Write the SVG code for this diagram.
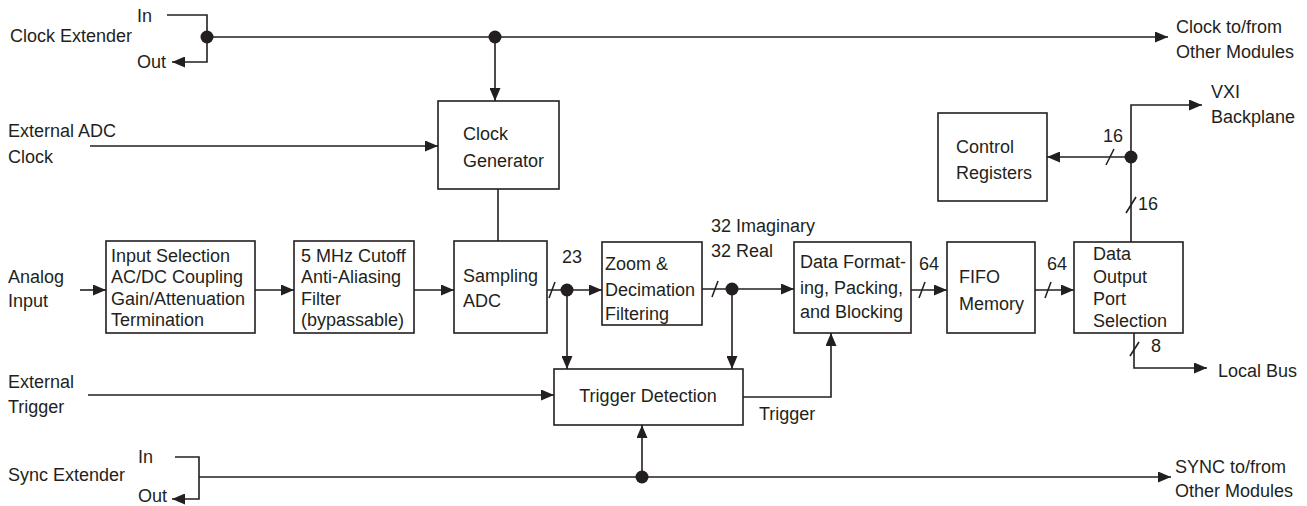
<svg xmlns="http://www.w3.org/2000/svg" width="1307" height="506" viewBox="0 0 1307 506">
<defs>
<marker id="ah" markerUnits="userSpaceOnUse" markerWidth="13" markerHeight="11" refX="13" refY="5.5" orient="auto">
<path d="M0,0 L13,5.5 L0,11 z" fill="#231f20"/>
</marker>
<style>
text{font-family:"Liberation Sans",Arial,sans-serif;font-size:18px;fill:#231f20}
.box{fill:#fff;stroke:#231f20;stroke-width:1.6}
.c path,.c line{fill:none;stroke:#231f20;stroke-width:1.6}
.c .a{marker-end:url(#ah)}
.dot{fill:#231f20}
.mid{text-anchor:middle}
</style>
</defs>
<rect width="1307" height="506" fill="#fff"/>

<g id="connectors" class="c">
<path d="M167,15 H207 V62 H172" class="a"/>
<path d="M207,37 H1168" class="a"/>
<path d="M495,37 V101" class="a"/>
<path d="M90,146 H438" class="a"/>
<path d="M498,189 V241"/>
<path d="M80,290 H106" class="a"/>
<path d="M255,290 H294" class="a"/>
<path d="M414,290 H454" class="a"/>
<path d="M547,290 H602" class="a"/>
<line x1="549" y1="298" x2="555" y2="282"/>
<path d="M567,290 V369" class="a"/>
<path d="M702,289 H794" class="a"/>
<line x1="712" y1="297" x2="718" y2="281"/>
<path d="M732,289 V369" class="a"/>
<path d="M911,290 H947" class="a"/>
<line x1="919" y1="298" x2="925" y2="282"/>
<path d="M1035,290 H1074" class="a"/>
<line x1="1045" y1="298" x2="1051" y2="282"/>
<path d="M1131,242 V105 H1202" class="a"/>
<path d="M1131,157 H1047" class="a"/>
<line x1="1106" y1="165" x2="1114" y2="149"/>
<line x1="1126" y1="213" x2="1136" y2="197"/>
<path d="M1134,333 V368 H1207" class="a"/>
<line x1="1130" y1="356" x2="1139" y2="342"/>
<path d="M88,395 H554" class="a"/>
<path d="M743,397 H831 V333" class="a"/>
<path d="M175,457 H199 V499 H172" class="a"/>
<path d="M199,477 H1171" class="a"/>
<path d="M642,477 V425" class="a"/>
<circle class="dot" cx="207" cy="37" r="6.5"/>
<circle class="dot" cx="495" cy="37" r="6.5"/>
<circle class="dot" cx="567" cy="290" r="6.5"/>
<circle class="dot" cx="732" cy="289" r="6.5"/>
<circle class="dot" cx="1131" cy="157" r="6.5"/>
<circle class="dot" cx="642" cy="477" r="6.5"/>
</g>

<g id="labels">
<text x="10" y="42">Clock Extender</text>
<text x="137" y="22">In</text>
<text x="137" y="68">Out</text>
<text x="1176" y="33">Clock to/from</text>
<text x="1176" y="58">Other Modules</text>
<text x="8" y="137">External ADC</text>
<text x="8" y="163">Clock</text>
<text x="8" y="283">Analog</text>
<text x="8" y="307">Input</text>
<text x="8" y="388">External</text>
<text x="8" y="413">Trigger</text>
<text x="8" y="481">Sync Extender</text>
<text x="138" y="463">In</text>
<text x="138" y="502">Out</text>
<text x="1175" y="473">SYNC to/from</text>
<text x="1175" y="497">Other Modules</text>
<text x="1211" y="98">VXI</text>
<text x="1211" y="123">Backplane</text>
<text x="1218" y="377">Local Bus</text>
<text x="562" y="263">23</text>
<text x="711" y="232">32 Imaginary</text>
<text x="711" y="257">32 Real</text>
<text x="919" y="270">64</text>
<text x="1047" y="270">64</text>
<text x="1103" y="142">16</text>
<text x="1138" y="210">16</text>
<text x="1151" y="352">8</text>
<text x="759" y="420">Trigger</text>
</g>

<g id="clock-generator">
<rect class="box" x="438" y="101" width="121" height="88"/>
<text x="463" y="140">Clock</text>
<text x="463" y="167">Generator</text>
</g>
<g id="input-selection">
<rect class="box" x="106" y="241" width="149" height="92"/>
<text x="111" y="262">Input Selection</text>
<text x="111" y="283">AC/DC Coupling</text>
<text x="111" y="305">Gain/Attenuation</text>
<text x="111" y="326">Termination</text>
</g>
<g id="anti-aliasing-filter">
<rect class="box" x="294" y="241" width="120" height="92"/>
<text x="301" y="262">5 MHz Cutoff</text>
<text x="301" y="283">Anti-Aliasing</text>
<text x="301" y="305">Filter</text>
<text x="301" y="326">(bypassable)</text>
</g>
<g id="sampling-adc">
<rect class="box" x="454" y="241" width="93" height="92"/>
<text x="463" y="282">Sampling</text>
<text x="463" y="307">ADC</text>
</g>
<g id="zoom-decimation">
<rect class="box" x="602" y="242" width="100" height="83"/>
<text x="605" y="270">Zoom &amp;</text>
<text x="605" y="296">Decimation</text>
<text x="605" y="320">Filtering</text>
</g>
<g id="data-formatting">
<rect class="box" x="794" y="242" width="117" height="91"/>
<text x="800" y="268">Data Format-</text>
<text x="800" y="294">ing, Packing,</text>
<text x="800" y="318">and Blocking</text>
</g>
<g id="fifo-memory">
<rect class="box" x="947" y="242" width="88" height="91"/>
<text x="959" y="283">FIFO</text>
<text x="959" y="310">Memory</text>
</g>
<g id="data-output">
<rect class="box" x="1074" y="242" width="109" height="91"/>
<text x="1093" y="260">Data</text>
<text x="1093" y="283">Output</text>
<text x="1093" y="305">Port</text>
<text x="1093" y="327">Selection</text>
</g>
<g id="control-registers">
<rect class="box" x="938" y="113" width="109" height="88"/>
<text x="956" y="153">Control</text>
<text x="956" y="179">Registers</text>
</g>
<g id="trigger-detection">
<rect class="box" x="554" y="369" width="189" height="56"/>
<text class="mid" x="648" y="402">Trigger Detection</text>
</g>
</svg>
